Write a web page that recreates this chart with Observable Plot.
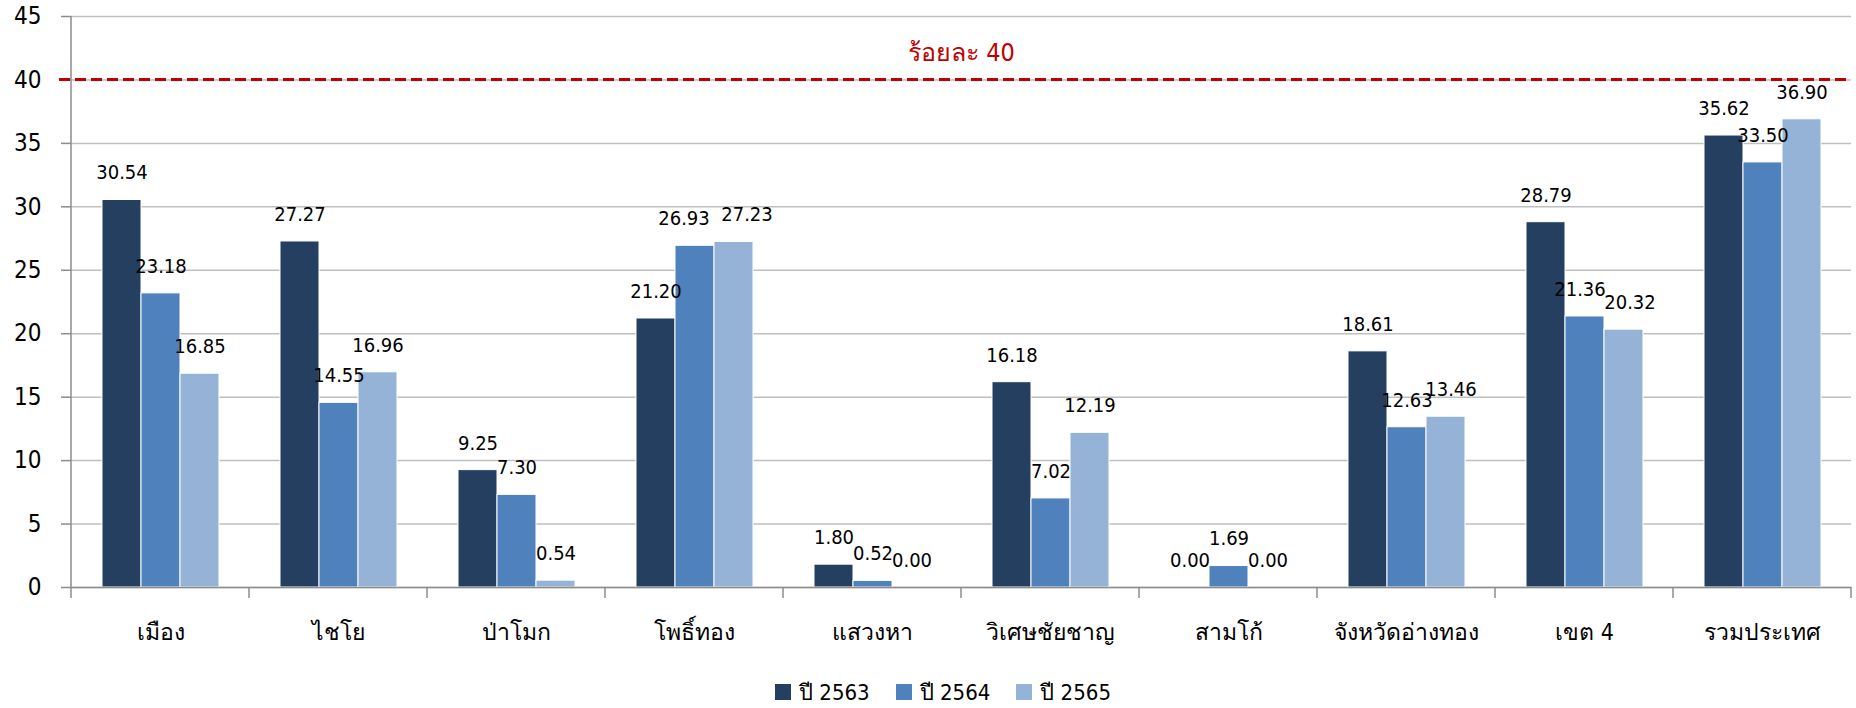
<!DOCTYPE html>
<html>
<head>
<meta charset="utf-8">
<script src="https://cdn.jsdelivr.net/npm/d3@7"></script>
<script src="https://cdn.jsdelivr.net/npm/@observablehq/plot@0.6"></script>
<style>
  html, body { margin: 0; padding: 0; background: #fff; }
  body { width: 1856px; height: 708px; overflow: hidden; font-family: "DejaVu Sans Condensed", "DejaVu Sans", sans-serif; }
  #legend { display: flex; justify-content: center; align-items: center; gap: 26px; height: 32px; padding-left: 30px; font-size: 22px; color: #000; }
  #legend .item { display: flex; align-items: center; gap: 8px; }
  #legend .sw { width: 16px; height: 16px; }
</style>
</head>
<body>
<div id="chart"></div>
<div id="legend"></div>
<script>
// Districts of Ang Thong province, plus zone 4 and the national total
const categories = ["เมือง", "ไชโย", "ป่าโมก", "โพธิ์ทอง", "แสวงหา", "วิเศษชัยชาญ", "สามโก้", "จังหวัดอ่างทอง", "เขต 4", "รวมประเทศ"];
const years = ["ปี 2563", "ปี 2564", "ปี 2565"];
const values2563 = [30.54, 27.27, 9.25, 21.20, 1.80, 16.18, 0.00, 18.61, 28.79, 35.62];
const values2564 = [23.18, 14.55, 7.30, 26.93, 0.52, 7.02, 1.69, 12.63, 21.36, 33.50];
const values2565 = [16.85, 16.96, 0.54, 27.23, 0.00, 12.19, 0.00, 13.46, 20.32, 36.90];
const yTicks = [0, 5, 10, 15, 20, 25, 30, 35, 40, 45];
const targetValue = 40;
const targetLabel = "ร้อยละ 40";
const colors = ["#243F60", "#4F81BD", "#95B3D7"];

const font = "'DejaVu Sans Condensed', 'DejaVu Sans', sans-serif";

// long-format table: one row per district and year
const series = [values2563, values2564, values2565];
const rows = [];
categories.forEach((c, i) => {
  years.forEach((yr, j) => rows.push({category: c, year: yr, value: series[j][i]}));
});

// value labels that are pushed sideways so neighbouring labels don't collide
const nudges = [
  {category: "โพธิ์ทอง", year: "ปี 2564", dx: -11},
  {category: "โพธิ์ทอง", year: "ปี 2565", dx: 13},
  {category: "จังหวัดอ่างทอง", year: "ปี 2565", dx: 5},
  {category: "เขต 4", year: "ปี 2564", dx: -5},
  {category: "เขต 4", year: "ปี 2565", dx: 6}
];
const nudgeOf = d => nudges.find(n => n.category === d.category && n.year === d.year);

const labelOptions = {fx: "category", x: "year", y: "value", text: d => d.value.toFixed(2), dy: -27, fontSize: 20};

const chart = Plot.plot({
  width: 1856,
  height: 676,
  marginLeft: 70,
  marginRight: 4,
  marginTop: 16,
  marginBottom: 89,
  style: {fontFamily: font, fontSize: "23px", color: "#000", background: "#fff"},
  fx: {domain: categories, padding: 0, axis: "bottom", label: null, tickSize: 0, tickPadding: 36, fontSize: 26},
  x: {domain: years, axis: null, paddingInner: 0, paddingOuter: 0.73},
  y: {domain: [0, 45], label: null, axis: null},
  color: {domain: years, range: colors},
  marks: [
    Plot.gridY(yTicks, {stroke: "#bfbfbf", strokeOpacity: 1, strokeWidth: 1.5}),
    // target label, centred on the middle of the frame (right edge of the 5th group)
    Plot.text([{category: categories[4], value: targetValue}], {
      fx: "category", y: "value", text: () => targetLabel, frameAnchor: "right", textAnchor: "middle",
      dy: -27, fill: "#c00000", fontSize: 25
    }),
    Plot.barY(rows, {fx: "category", x: "year", y: "value", fill: "year", stroke: "#fff", strokeWidth: 1}),
    Plot.ruleY([0], {stroke: "#8c8c8c", strokeWidth: 1.5}),
    Plot.text(rows.filter(d => !nudgeOf(d)), labelOptions),
    ...nudges.map(n => Plot.text(rows.filter(d => nudgeOf(d) === n), {...labelOptions, dx: n.dx})),
    Plot.axisY(yTicks, {tickSize: 10, tickPadding: 20, fontSize: 24, stroke: "#8c8c8c", strokeWidth: 1.5, label: null})
  ]
});

// Excel-style axis line, category separators and target line, placed with the plot's own scales
const svg = d3.select(chart);
const fx = chart.scale("fx");
const y = chart.scale("y");
const y0 = y.apply(0);
const yTop = y.apply(45);
const left = fx.apply(categories[0]);
const right = fx.apply(categories[categories.length - 1]) + fx.bandwidth;
svg.append("line")
  .attr("x1", left).attr("x2", left).attr("y1", yTop).attr("y2", y0 + 11)
  .attr("stroke", "#8c8c8c").attr("stroke-width", 1.5);
const bounds = categories.map(c => fx.apply(c) + fx.bandwidth);
svg.append("g").selectAll("line").data(bounds).join("line")
  .attr("x1", d => d).attr("x2", d => d).attr("y1", y0).attr("y2", y0 + 11)
  .attr("stroke", "#8c8c8c").attr("stroke-width", 1.5);
const yT = y.apply(targetValue);
svg.append("line")
  .attr("x1", left - 12).attr("x2", right).attr("y1", yT).attr("y2", yT)
  .attr("stroke", "#c00000").attr("stroke-width", 3).attr("stroke-dasharray", "11,5");

document.getElementById("chart").append(chart);

// legend
const legend = d3.select("#legend");
years.forEach((yr, i) => {
  const item = legend.append("div").attr("class", "item");
  item.append("div").attr("class", "sw").style("background", colors[i]);
  item.append("span").text(yr);
});
</script>
</body>
</html>
